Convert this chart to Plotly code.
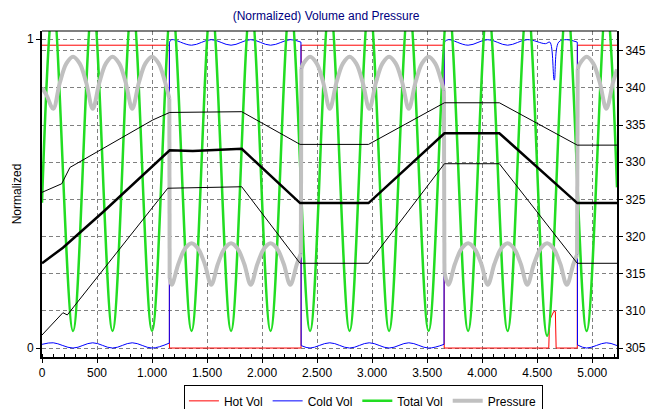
import plotly.graph_objects as go

# ---------------- data ----------------
title_text = "(Normalized) Volume and Pressure"
x_tick_vals = [0, 500, 1000, 1500, 2000, 2500, 3000, 3500, 4000, 4500, 5000]
x_tick_text = ["0", "500", "1.000", "1.500", "2.000", "2.500", "3.000",
               "3.500", "4.000", "4.500", "5.000"]
left_tick_vals = [0, 1]
right_tick_vals = [305, 310, 315, 320, 325, 330, 335, 340, 345]

# x positions where the hot/cold phase switches
phase_breaks = [1158, 2354, 3654, 4865]

hot_x = [0, 1157, 1158, 2354, 2355, 3654, 3655, 4605, 4612, 4650, 4665, 4672, 4864, 4866, 5225]
hot_y = [0.98, 0.98, 0.0, 0.0, 0.98, 0.98, 0.0, 0.0, 0.09, 0.118, 0.118, 0.0, 0.0, 0.98, 0.98]

cold_x = [0, 102, 282, 461, 641, 820, 1000, 1157,
          1158, 1179, 1359, 1538, 1718, 1897, 2077, 2256, 2353,
          2355, 2436, 2615, 2795, 2974, 3154, 3333, 3513, 3653,
          3655, 3692, 3872, 4051, 4231, 4410, 4575, 4615, 4655, 4695, 4769, 4864,
          4866, 4949, 5128, 5225]
cold_y = [0.012, 0.017, 0.0, 0.017, 0.0, 0.017, 0.0, 0.016,
          0.99, 0.998, 0.98, 0.998, 0.98, 0.998, 0.98, 0.998, 0.99,
          0.008, 0.0, 0.017, 0.0, 0.017, 0.0, 0.017, 0.0, 0.012,
          0.99, 0.998, 0.98, 0.998, 0.98, 0.998, 0.985, 0.99, 0.867, 0.99, 0.998, 0.99,
          0.01, 0.0, 0.017, 0.008]

total_x = [0, 102, 282, 461, 641, 820, 1000, 1179, 1359, 1538, 1718, 1897, 2077, 2256,
           2436, 2615, 2795, 2974, 3154, 3333, 3513, 3692, 3872, 4051, 4231, 4410,
           4590, 4769, 4949, 5128, 5225]
total_y = [0.47, 1.12, 0.055, 1.12, 0.055, 1.12, 0.055, 1.12, 0.055, 1.12, 0.055, 1.12,
           0.055, 1.12, 0.055, 1.12, 0.055, 1.12, 0.055, 1.12, 0.055, 1.12, 0.055, 1.12,
           0.055, 1.12, 0.04, 1.12, 0.055, 1.12, 0.52]

pressure_x = [0, 42, 102, 162, 222, 282, 342, 402, 461, 521, 581, 641, 701, 761, 820,
              880, 940, 1000, 1060, 1120, 1157,
              1160, 1179, 1239, 1299, 1359, 1419, 1479, 1538, 1598, 1658, 1718, 1778,
              1838, 1897, 1957, 2017, 2077, 2137, 2197, 2256, 2316, 2352,
              2357, 2376, 2436, 2496, 2556, 2615, 2675, 2735, 2795, 2855, 2915, 2974,
              3034, 3094, 3154, 3214, 3274, 3333, 3393, 3453, 3513, 3573, 3633, 3652,
              3657, 3692, 3752, 3812, 3872, 3932, 3992, 4051, 4111, 4171, 4231, 4291,
              4351, 4410, 4470, 4530, 4590, 4650, 4710, 4769, 4829, 4862,
              4868, 4889, 4949, 5009, 5069, 5128, 5188, 5225]
pressure_y = [340.0, 339.0, 337.2, 340.7, 343.3, 344.2, 343.3, 340.7, 337.2, 340.7, 343.3,
              344.2, 343.3, 340.7, 337.2, 340.7, 343.3, 344.2, 343.3, 340.7, 338.6,
              314.4, 313.5, 316.3, 318.35, 319.1, 318.35, 316.3, 313.5, 316.3, 318.35,
              319.1, 318.35, 316.3, 313.5, 316.3, 318.35, 319.1, 318.35, 316.3, 313.5,
              316.3, 317.7,
              342.6, 343.3, 344.2, 343.3, 340.7, 337.2, 340.7, 343.3, 344.2, 343.3, 340.7,
              337.2, 340.7, 343.3, 344.2, 343.3, 340.7, 337.2, 340.7, 343.3, 344.2, 343.3,
              340.7, 339.7,
              315.2, 313.5, 316.3, 318.35, 319.1, 318.35, 316.3, 313.5, 316.3, 318.35,
              319.1, 318.35, 316.3, 313.5, 316.3, 318.35, 319.1, 318.35, 316.3, 313.5,
              316.3, 317.55,
              342.5, 343.3, 344.2, 343.3, 340.7, 337.2, 340.7, 342.5]

mid_x = [0, 190, 555, 890, 1160, 1370, 1815, 2345, 2967, 3657, 4156, 4864, 5225]
mid_y = [316.4, 318.5, 323.3, 327.9, 331.6, 331.5, 331.8, 324.5, 324.5, 333.9, 333.9, 324.5, 324.5]
upper_x = [0, 179, 254, 692, 1008, 1160, 1815, 2345, 2967, 3657, 4156, 4864, 5225]
upper_y = [325.95, 327.1, 329.3, 333.0, 335.7, 336.7, 336.8, 332.4, 332.4, 338.0, 338.0, 332.3, 332.3]
lower_x = [0, 190, 230, 1143, 1815, 2345, 2967, 3657, 4156, 4864, 5225]
lower_y = [306.75, 309.75, 309.45, 326.5, 326.7, 316.4, 316.4, 329.8, 329.8, 316.4, 316.4]

# ---------------- figure ----------------
FONT = "Liberation Sans, Arial, sans-serif"
fig = go.Figure()


def split(xs, ys, breaks):
    edges = [-1e12] + list(breaks) + [1e12]
    segs = []
    for a, b in zip(edges[:-1], edges[1:]):
        segs.append([(x, y) for x, y in zip(xs, ys) if a <= x < b])
    return [s for s in segs if s]


def add_phased(name, xs, ys, color, width, yaxis):
    segs = split(xs, ys, phase_breaks)
    for i, seg in enumerate(segs):
        fig.add_trace(go.Scatter(
            x=[p[0] for p in seg], y=[p[1] for p in seg], mode="lines",
            line=dict(color=color, width=width, shape="spline", smoothing=1.0),
            name=name, legendgroup=name, showlegend=(i == 0), yaxis=yaxis,
            hoverinfo="skip"))
        if i + 1 < len(segs):
            a, b = seg[-1], segs[i + 1][0]
            fig.add_trace(go.Scatter(
                x=[a[0], b[0]], y=[a[1], b[1]], mode="lines",
                line=dict(color=color, width=width), name=name, legendgroup=name,
                showlegend=False, yaxis=yaxis, hoverinfo="skip"))


fig.add_trace(go.Scatter(x=hot_x, y=hot_y, mode="lines", name="Hot Vol",
                         line=dict(color="#FF0000", width=1), yaxis="y", hoverinfo="skip"))
add_phased("Cold Vol", cold_x, cold_y, "#0000FF", 1, "y")
fig.add_trace(go.Scatter(x=total_x, y=total_y, mode="lines", name="Total Vol",
                         line=dict(color="#22DD22", width=2.5, shape="spline", smoothing=1.0),
                         yaxis="y", hoverinfo="skip"))
add_phased("Pressure", pressure_x, pressure_y, "#C0C0C0", 4, "y2")

for xs, ys, w in [(upper_x, upper_y, 1), (lower_x, lower_y, 1), (mid_x, mid_y, 2.5)]:
    fig.add_trace(go.Scatter(x=xs, y=ys, mode="lines", showlegend=False,
                             line=dict(color="#000000", width=w), yaxis="y2",
                             hoverinfo="skip"))

grid = dict(showgrid=True, gridcolor="#808080", gridwidth=1, griddash="4px,3px")

fig.update_layout(
    width=660, height=409,
    margin=dict(l=42, r=43, t=31, b=52, autoexpand=False),
    paper_bgcolor="white", plot_bgcolor="white",
    font=dict(family=FONT, size=12, color="black"),
    title=dict(text=title_text, x=0.494, xanchor="center", y=0.962, yanchor="middle",
               font=dict(family=FONT, size=12, color="#000080")),
    showlegend=True,
    legend=dict(orientation="h", x=0.559, xanchor="center", y=-0.087, yanchor="top",
                bordercolor="#000000", borderwidth=1, bgcolor="white",
                font=dict(family=FONT, size=12, color="black"),
                itemwidth=30, tracegroupgap=0),
    xaxis=dict(range=[0, 5225], tickvals=x_tick_vals, ticktext=x_tick_text,
               showline=True, linecolor="black", linewidth=2, ticks="outside",
               ticklen=4, tickcolor="black", zeroline=False, automargin=False,
               minor=dict(dtick=100, ticks="inside", ticklen=3, tickcolor="black",
                          showgrid=False),
               **grid),
    yaxis=dict(range=[-0.029, 1.026], tickvals=left_tick_vals, ticktext=["0", "1"],
               showline=True, linecolor="black", linewidth=2, ticks="outside",
               ticklen=4, tickcolor="black", zeroline=False, automargin=False,
               title=dict(text="Normalized", standoff=3,
                          font=dict(family=FONT, size=12, color="black")),
               **grid),
    yaxis2=dict(range=[303.79, 347.66], tickvals=right_tick_vals, overlaying="y",
                side="right", showline=True, linecolor="black", linewidth=2,
                ticks="outside", ticklen=4, tickcolor="black", zeroline=False,
                automargin=False, **grid),
    shapes=[dict(type="line", xref="paper", yref="paper", x0=0, x1=1, y0=1, y1=1,
                 line=dict(color="black", width=1))],
)

fig.write_html("out.html", config={"displayModeBar": False},
               post_script="document.body.style.margin='0';")
